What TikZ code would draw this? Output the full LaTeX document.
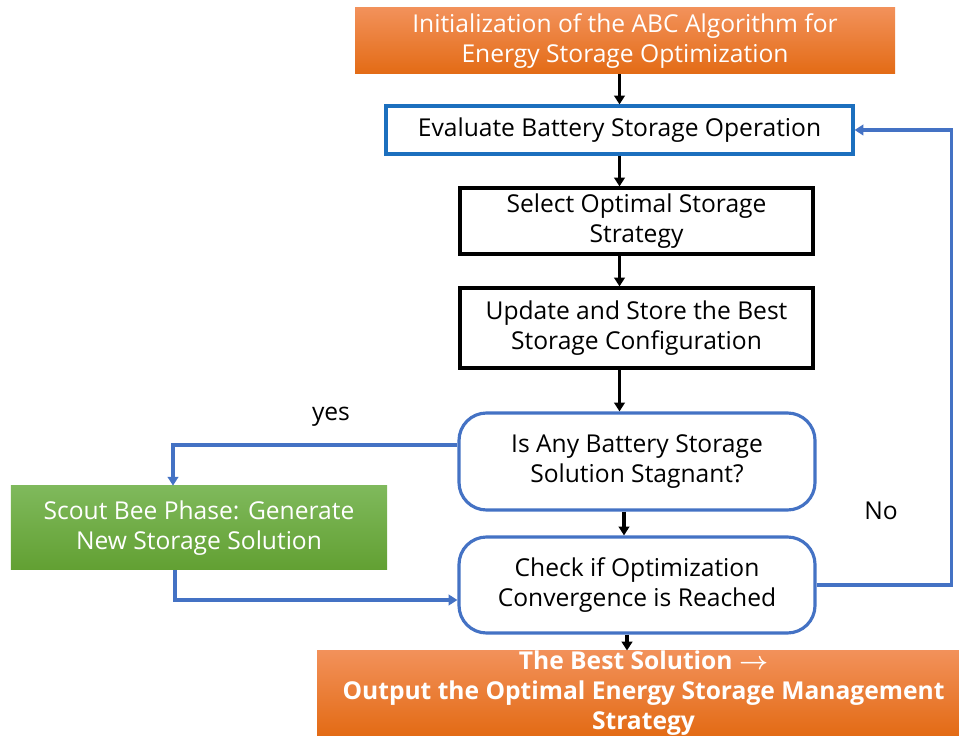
\documentclass[tikz,border=0pt]{standalone}
\usepackage{fontspec}
\setmainfont{Open Sans}
\usetikzlibrary{arrows.meta}
\definecolor{orangetop}{HTML}{F2915A}
\definecolor{orangebot}{HTML}{E36B15}
\definecolor{greentop}{HTML}{7FB95C}
\definecolor{greenbot}{HTML}{62A032}
\definecolor{evalblue}{HTML}{1C6FBE}
\definecolor{lineblue}{HTML}{4472C4}

\begin{document}
\begin{tikzpicture}[
	font=\fontsize{14}{17}\selectfont,
	orangebox/.style={rectangle, top color=orangetop, bottom color=orangebot, text=white, align=center, inner sep=0pt},
	greenbox/.style={rectangle, top color=greentop, bottom color=greenbot, text=white, align=center, inner sep=0pt},
	plainbox/.style={rectangle, draw=black, line width=1.8pt, fill=white, align=center, inner sep=0pt},
	roundbox/.style={rectangle, rounded corners=0.55cm, draw=lineblue, line width=1.8pt, fill=white, align=center, inner sep=0pt},
	blackarrow/.style={-{Triangle[length=5pt,width=6pt]}, line width=1.8pt, black},
	bluearrow/.style={-{Triangle[length=5pt,width=6pt]}, line width=1.8pt, lineblue}
	]
		\useasboundingbox (0,0) rectangle (19.18,14.7);
		\node[orangebox, minimum width=10.8cm, minimum height=1.32cm] (init) at (12.5,13.88) {Initialization of the ABC Algorithm for\\Energy Storage Optimization};
		\node[plainbox, draw=evalblue, minimum width=9.34cm, minimum height=0.96cm] (eval) at (12.39,12.1) {Evaluate Battery Storage Operation};
		\node[plainbox, minimum width=7.06cm, minimum height=1.32cm] (select) at (12.73,10.28) {Select Optimal Storage\\Strategy};
		\node[plainbox, minimum width=7.06cm, minimum height=1.6cm] (update) at (12.73,8.14) {Update and Store the Best\\Storage Configuration};
		\node[roundbox, minimum width=7.12cm, minimum height=1.94cm] (stag) at (12.74,5.47) {Is Any Battery Storage\\Solution Stagnant?};
		\node[roundbox, minimum width=7.12cm, minimum height=1.92cm] (check) at (12.74,3.0) {Check if Optimization\\Convergence is Reached};
		\node[greenbox, minimum width=7.52cm, minimum height=1.68cm] (scout) at (3.98,4.14) {Scout Bee Phase: Generate\\New Storage Solution};
		\node[orangebox, font=\fontsize{14}{17}\selectfont\bfseries, minimum width=13.06cm, minimum height=1.68cm] (best) at (12.87,0.84) {The Best Solution {\boldmath$\rightarrow$}\\Output the Optimal Energy Storage Management\\Strategy};
		\node (yes) at (6.62,6.36) {yes};
		\node (no) at (17.62,4.48) {No};
		\draw[blackarrow] (eval.north |- init.south) -- (eval.north);
		\draw[blackarrow] (eval.south) -- (eval.south |- select.north);
		\draw[blackarrow] (eval.south |- select.south) -- (eval.south |- update.north);
		\draw[blackarrow] (eval.south |- update.south) -- (eval.south |- stag.north);
		\draw[blackarrow] ([xshift=-0.26cm]stag.south) -- ([xshift=-0.26cm]stag.south |- check.north);
		\draw[blackarrow] ([xshift=-0.2cm]check.south) -- ([xshift=-0.2cm]check.south |- best.north);
		\draw[bluearrow] ([yshift=0.33cm]stag.west) -| ([xshift=-0.52cm]scout.north);
		\draw[bluearrow] ([xshift=-0.48cm]scout.south) |- ([yshift=-0.3cm]check.west);
		\draw[bluearrow] (check.east) -- ++(2.7,0) |- (eval.east);
\end{tikzpicture}
\end{document}
